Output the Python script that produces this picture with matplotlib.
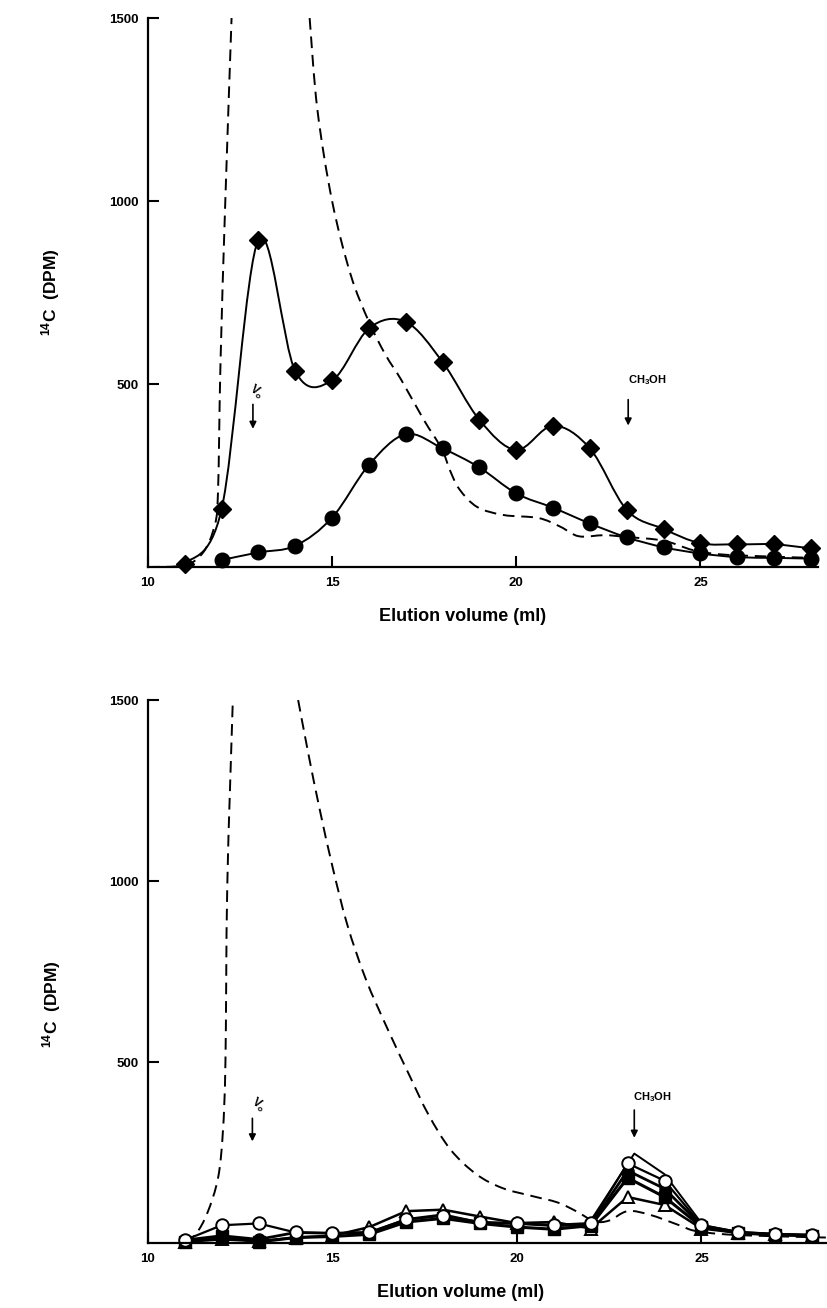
import numpy as np
import matplotlib
matplotlib.use('Agg')
import matplotlib.pyplot as plt
from matplotlib.path import Path
from matplotlib.patches import PathPatch

plt.rcParams['font.family'] = ['Liberation Sans', 'DejaVu Sans']
plt.rcParams['font.weight'] = 'bold'
plt.rcParams['mathtext.default'] = 'regular'

# elution volumes (ml) of the collected fractions
fractions_top = [11, 12, 13, 14, 15, 16, 17, 18, 19, 20, 21, 22, 23, 24, 25, 26, 27, 28]
fractions_circ = [12, 13, 14, 15, 16, 17, 18, 19, 20, 21, 22, 23, 24, 25, 26, 27, 28]

# upper panel
diamond_dpm = [8, 158, 894, 535, 510, 652, 670, 560, 402, 320, 386, 324, 156, 104, 65, 62, 62, 51]
circle_dpm = [19, 40, 58, 135, 279, 363, 324, 272, 201, 162, 119, 81, 54, 37, 27, 25, 23]

# marker (dashed) profile, upper panel: rising and falling flank, clipped at 1500
dash_top_rise_x = [10.0, 11.0, 11.5, 11.8, 11.9, 11.97, 12.1, 12.27]
dash_top_rise_y = [0, 5, 40, 110, 200, 560, 1000, 1500]
dash_top_fall_x = [14.39, 14.6, 15.0, 15.5, 16.0, 16.45, 16.88, 17.49, 17.97, 18.21, 18.46,
                   18.94, 19.66, 20.6, 21.2, 21.7, 22.4, 23.0, 24.0, 24.8, 25.5, 26.5, 28.0]
dash_top_fall_y = [1500, 1250, 1000, 800, 670, 580, 511, 402, 324, 262, 212,
                   164, 142, 134, 110, 84, 87, 82, 72, 46, 35, 30, 25]

# lower panel
fractions_bot = [11, 12, 13, 14, 15, 16, 17, 18, 19, 20, 21, 22, 23, 24, 25, 26, 27, 28]
open_circle_dpm = [8, 49, 54, 29, 27, 30, 65, 75, 58, 54, 50, 55, 220, 172, 50, 30, 25, 22]
filled_circle_dpm = [8, 20, 10, 29, 27, 28, 65, 78, 56, 54, 48, 50, 200, 150, 48, 30, 24, 22]
filled_square_dpm = [3, 18, 3, 15, 18, 24, 58, 68, 54, 44, 38, 48, 180, 127, 45, 28, 22, 20]
open_triangle_dpm = [3, 10, 5, 15, 20, 44, 88, 92, 73, 55, 58, 40, 127, 105, 40, 28, 24, 20]
outline_x = [22.0, 23.18, 24.0, 25.0]
outline_y = [62, 247, 190, 55]

dash_bot_rise_x = [11.0, 11.3, 11.61, 11.90, 12.03, 12.10, 12.15, 12.30]
dash_bot_rise_y = [2, 25, 83, 180, 307, 502, 989, 1500]
dash_bot_fall_x = [14.07, 14.35, 14.65, 15.0, 15.4, 15.9, 16.5, 17.1, 17.6, 18.2, 18.9, 19.6,
                   20.4, 21.1, 21.6, 22.1, 22.5, 23.0, 23.6, 24.4, 24.8, 25.5, 26.5, 28.4]
dash_bot_fall_y = [1500, 1350, 1200, 1040, 880, 730, 590, 460, 355, 258, 190, 152,
                   130, 112, 88, 60, 62, 88, 78, 49, 34, 25, 20, 15]

x_ticks = [10, 15, 20, 25]
y_ticks = [500, 1000, 1500]


def smooth_path(xs, ys):
    # catmull-rom through the points, as cubic bezier pieces
    pts = np.column_stack([xs, ys]).astype(float)
    ext = np.vstack([pts[0], pts, pts[-1]])
    verts = [pts[0]]
    codes = [Path.MOVETO]
    for i in range(len(pts) - 1):
        p0, p1, p2, p3 = ext[i], ext[i + 1], ext[i + 2], ext[i + 3]
        verts += [p1 + (p2 - p0) / 6, p2 - (p3 - p1) / 6, p2]
        codes += [Path.CURVE4] * 3
    return Path(verts, codes)


def smooth_line(ax, xs, ys, **kw):
    ax.add_patch(PathPatch(smooth_path(xs, ys), fill=False, edgecolor='black', **kw))


def style_axes(ax, xmax):
    ax.set_xlim(10, xmax)
    ax.set_ylim(0, 1500)
    ax.spines['top'].set_visible(False)
    ax.spines['right'].set_visible(False)
    ax.spines['left'].set_linewidth(1.6)
    ax.spines['bottom'].set_linewidth(1.6)
    ax.set_xticks(x_ticks)
    ax.set_yticks(y_ticks)
    ax.tick_params(direction='in', length=8, width=1.5, labelsize=9.5, pad=7)
    ax.set_xlabel('Elution volume (ml)', fontsize=13, fontweight='bold')
    ax.set_ylabel('$^{14}$C  (DPM)', fontsize=12.5, fontweight='bold')


def arrow(ax, x, y0, y1):
    ax.annotate('', xy=(x, y1), xytext=(x, y0),
                arrowprops=dict(arrowstyle='-|>', lw=1.2, color='black', mutation_scale=10))


fig = plt.figure(figsize=(8.28, 13.08), dpi=100)
ax1 = fig.add_axes([0.1787, 0.5665, 0.8095, 0.4197])
ax2 = fig.add_axes([0.1787, 0.0497, 0.8213, 0.4151])

dash = (0, (6, 3.5))

## upper panel
smooth_line(ax1, dash_top_rise_x, dash_top_rise_y, lw=1.4, linestyle=dash)
smooth_line(ax1, dash_top_fall_x, dash_top_fall_y, lw=1.4, linestyle=dash)
smooth_line(ax1, fractions_top, diamond_dpm, lw=1.4)
smooth_line(ax1, fractions_circ, circle_dpm, lw=1.4)
ax1.plot(fractions_top, diamond_dpm, 'D', color='black', ms=9, clip_on=False)
ax1.plot(fractions_circ, circle_dpm, 'o', color='black', ms=10.5, clip_on=False)

ax1.text(12.95, 478, 'V$_o$', fontsize=8.5, rotation=-35, ha='center', va='center')
arrow(ax1, 12.85, 452, 370)
ax1.text(23.55, 511, 'CH$_3$OH', fontsize=8, ha='center', va='center')
arrow(ax1, 23.04, 465, 379)

style_axes(ax1, 28.2)
ax1.yaxis.set_label_coords(-0.128, 0.5)
ax1.xaxis.set_label_coords(0.47, -0.075)

## lower panel
smooth_line(ax2, dash_bot_rise_x, dash_bot_rise_y, lw=1.4, linestyle=dash)
smooth_line(ax2, dash_bot_fall_x, dash_bot_fall_y, lw=1.4, linestyle=dash)
ax2.plot(outline_x, outline_y, '-', color='black', lw=1.4)
ax2.plot(fractions_bot, open_triangle_dpm, '-^', color='black', mfc='white', mew=1.4, lw=1.8, ms=9, clip_on=False)
ax2.plot(fractions_bot, filled_square_dpm, '-s', color='black', lw=2.2, ms=8, clip_on=False)
ax2.plot(fractions_bot, filled_circle_dpm, '-o', color='black', lw=2.0, ms=8, clip_on=False)
ax2.plot(fractions_bot, open_circle_dpm, '-o', color='black', mfc='white', mew=1.4, lw=1.6, ms=9, clip_on=False)

ax2.text(12.98, 380, 'V$_o$', fontsize=8.5, rotation=-35, ha='center', va='center')
arrow(ax2, 12.83, 352, 273)
ax2.text(23.66, 404, 'CH$_3$OH', fontsize=8, ha='center', va='center')
arrow(ax2, 23.18, 375, 283)

style_axes(ax2, 28.43)
ax2.yaxis.set_label_coords(-0.125, 0.44)
ax2.xaxis.set_label_coords(0.46, -0.075)

fig.savefig('out.png', dpi=100)
